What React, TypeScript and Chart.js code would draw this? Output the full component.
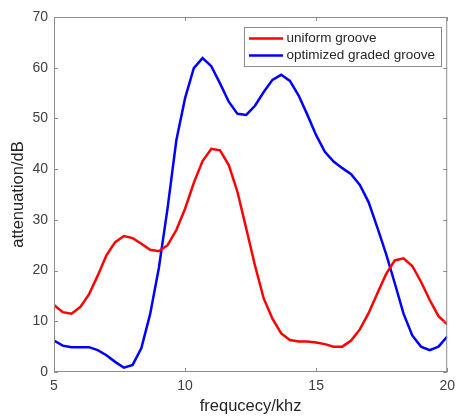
import React, { useEffect, useRef } from "react";
import { Chart, registerables } from "chart.js";

Chart.register(...registerables);

const freq: number[] = [
  5.0, 5.333, 5.667, 6.0, 6.333, 6.667, 7.0, 7.333, 7.667, 8.0, 8.333, 8.667,
  9.0, 9.333, 9.667, 10.0, 10.333, 10.667, 11.0, 11.333, 11.667, 12.0, 12.333,
  12.667, 13.0, 13.333, 13.667, 14.0, 14.333, 14.667, 15.0, 15.333, 15.667,
  16.0, 16.333, 16.667, 17.0, 17.333, 17.667, 18.0, 18.333, 18.667, 19.0,
  19.333, 19.667, 20.0,
];

const uniformGroove: number[] = [
  13.2, 11.8, 11.5, 12.8, 15.3, 19.0, 23.0, 25.6, 26.8, 26.4, 25.3, 24.1, 23.8,
  25.0, 28.0, 32.2, 37.3, 41.6, 44.0, 43.7, 40.8, 35.5, 28.3, 21.0, 14.5, 10.5,
  7.6, 6.3, 6.0, 6.0, 5.8, 5.5, 5.0, 5.0, 6.2, 8.4, 11.6, 15.5, 19.3, 22.0,
  22.4, 20.9, 17.8, 14.2, 11.0, 9.4,
];

const gradedGroove: number[] = [
  6.2, 5.2, 4.9, 4.9, 4.9, 4.3, 3.3, 2.0, 0.85, 1.4, 4.7, 11.4, 20.5, 32.3,
  45.7, 54.0, 59.9, 61.9, 60.3, 56.9, 53.3, 50.9, 50.7, 52.5, 55.2, 57.6, 58.6,
  57.4, 54.5, 50.7, 46.7, 43.4, 41.5, 40.2, 39.0, 36.9, 33.5, 28.5, 23.3, 17.5,
  11.5, 7.2, 5.0, 4.3, 5.0, 7.0,
];

const seriesLabels: string[] = ["uniform groove", "optimized graded groove"];
const xTicks: number[] = [5, 10, 15, 20];
const yTicks: number[] = [0, 10, 20, 30, 40, 50, 60, 70];

const FONT = "'Liberation Sans', Arial, Helvetica, sans-serif";

const boxPlugin = {
  id: "matlabBox",
  afterDraw(chart: any) {
    const { ctx, chartArea, scales } = chart;
    const { left, right, top, bottom } = chartArea;
    ctx.save();
    ctx.strokeStyle = "#8c8c8c";
    ctx.lineWidth = 1;
    ctx.strokeRect(left + 0.5, top + 0.5, right - left - 1, bottom - top - 1);
    const tl = 4;
    ctx.beginPath();
    for (const v of xTicks) {
      const x = Math.round(scales.x.getPixelForValue(v)) + 0.5;
      ctx.moveTo(x, bottom);
      ctx.lineTo(x, bottom - tl);
      ctx.moveTo(x, top);
      ctx.lineTo(x, top + tl);
    }
    for (const v of yTicks) {
      const y = Math.round(scales.y.getPixelForValue(v)) + 0.5;
      ctx.moveTo(left, y);
      ctx.lineTo(left + tl, y);
      ctx.moveTo(right, y);
      ctx.lineTo(right - tl, y);
    }
    ctx.stroke();

    // legend
    const lx = 244.5, ly = 27.5, lw = 197, lh = 39;
    ctx.fillStyle = "#ffffff";
    ctx.fillRect(lx, ly, lw, lh);
    ctx.strokeStyle = "#8c8c8c";
    ctx.strokeRect(lx, ly, lw, lh);
    ctx.font = `13.5px ${FONT}`;
    ctx.textBaseline = "middle";
    ctx.textAlign = "left";
    chart.data.datasets.forEach((ds: any, i: number) => {
      const yy = 38.5 + i * 17;
      ctx.strokeStyle = ds.borderColor;
      ctx.lineWidth = 2.5;
      ctx.beginPath();
      ctx.moveTo(249, yy);
      ctx.lineTo(283, yy);
      ctx.stroke();
      ctx.fillStyle = "#262626";
      ctx.fillText(ds.label, 286.5, yy);
    });
    ctx.restore();
  },
};

export default function App() {
  const ref = useRef<HTMLCanvasElement>(null);
  useEffect(() => {
    document.body.style.margin = "0";
    const canvas = ref.current!;
    const chart = new Chart(canvas, {
      type: "line",
      data: {
        datasets: [
          {
            label: seriesLabels[0],
            data: freq.map((x, i) => ({ x, y: uniformGroove[i] })),
            borderColor: "#ff0000",
            borderWidth: 2.5,
            pointRadius: 0,
            tension: 0,
          },
          {
            label: seriesLabels[1],
            data: freq.map((x, i) => ({ x, y: gradedGroove[i] })),
            borderColor: "#0000ff",
            borderWidth: 2.5,
            pointRadius: 0,
            tension: 0,
          },
        ],
      },
      options: {
        animation: false,
        responsive: false,
        layout: { padding: { top: 17, right: 9, left: 0, bottom: 0 } },
        plugins: { legend: { display: false }, tooltip: { enabled: false } },
        scales: {
          x: {
            type: "linear",
            min: 5,
            max: 20,
            afterBuildTicks: (s: any) => {
              s.ticks = xTicks.map((v) => ({ value: v }));
            },
            afterFit: (s: any) => {
              s.height = 45;
            },
            grid: { display: false, drawTicks: false },
            border: { display: false },
            ticks: {
              padding: 6,
              color: "#404040",
              font: { family: FONT, size: 14 },
              maxRotation: 0,
            },
            title: {
              display: true,
              text: "frequcecy/khz",
              color: "#262626",
              font: { family: FONT, size: 16.5 },
              padding: { top: 0, bottom: 1 },
            },
          },
          y: {
            type: "linear",
            min: 0,
            max: 70,
            afterBuildTicks: (s: any) => {
              s.ticks = yTicks.map((v) => ({ value: v }));
            },
            afterFit: (s: any) => {
              s.width = 54;
            },
            grid: { display: false, drawTicks: false },
            border: { display: false },
            ticks: {
              padding: 6,
              color: "#404040",
              font: { family: FONT, size: 14 },
            },
            title: {
              display: true,
              text: "attenuation/dB",
              color: "#262626",
              font: { family: FONT, size: 16.5 },
              padding: { top: 9, bottom: 0 },
            },
          },
        },
      },
      plugins: [boxPlugin],
    } as any);
    return () => chart.destroy();
  }, []);
  return <canvas ref={ref} width={461} height={417} style={{ display: "block" }} />;
}
